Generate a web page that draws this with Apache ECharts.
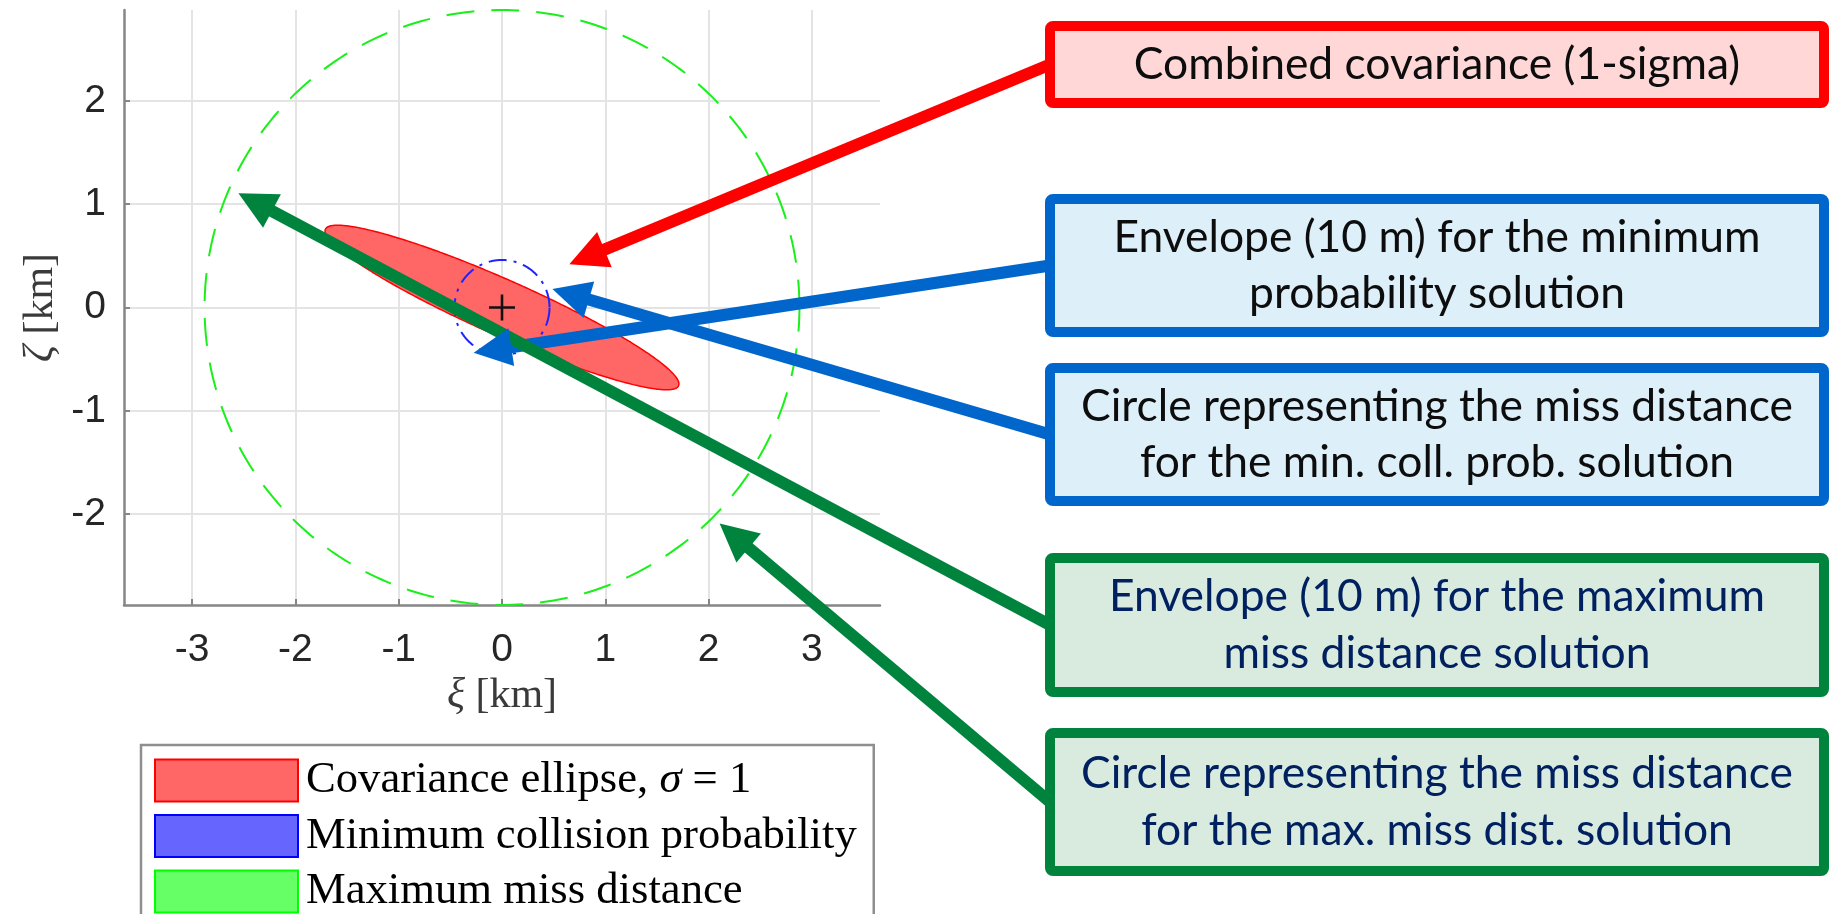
<!DOCTYPE html>
<html>
<head>
<meta charset="utf-8">
<script src="https://cdn.jsdelivr.net/npm/echarts@6.0.0/dist/echarts.min.js"></script>
<style>
  html, body { margin: 0; padding: 0; background: #ffffff; }
  #chart { width: 1832px; height: 914px; }
</style>
</head>
<body>
<div id="chart"></div>
<script>
// Encounter-plane geometry (ξ, ζ), in km
const covarianceEllipse = [0, 0, 1.87, 0.27, -23.9];    // cx, cy, semi-major, semi-minor, tilt (deg)
const minProbabilityCircle = [0, 0, 0.46];              // cx, cy, radius
const maxMissCircle = [0, 0, 2.88];                     // cx, cy, radius
const originMarker = [[0, 0]];

const seriesNames = [
  'Covariance ellipse, σ = 1',
  'Minimum collision probability',
  'Maximum miss distance'
];

const xRange = [-3.66, 3.66];
const yRange = [-2.88, 2.88];
const xTicks = [-3, -2, -1, 0, 1, 2, 3];
const yTicks = [-2, -1, 0, 1, 2];

// Callout texts and the data point each arrow points at
const calloutTexts = [
  'Combined covariance (1-sigma)',
  'Envelope (10 m) for the minimum\nprobability solution',
  'Circle representing the miss distance\nfor the min. coll. prob. solution',
  'Envelope (10 m) for the maximum\nmiss distance solution',
  'Circle representing the miss distance\nfor the max. miss dist. solution'
];
const calloutTargets = [
  [0.652, 0.419],
  [-0.274, -0.439],
  [0.488, 0.179],
  [-2.552, 1.106],
  [2.107, -2.091]
];

// ---- styling / layout ----
const RED = '#ff0000', BLUE = '#0066cc', GREEN = '#00843d';
const calloutStyle = [
  { stroke: RED,   fill: '#ffd7d7', text: '#0d0d0d' },
  { stroke: BLUE,  fill: '#ddeff9', text: '#0d0d0d' },
  { stroke: BLUE,  fill: '#ddeff9', text: '#0d0d0d' },
  { stroke: GREEN, fill: '#d8ebde', text: '#002060' },
  { stroke: GREEN, fill: '#d8ebde', text: '#002060' }
];
// outer top / bottom of each callout box (px)
const boxRows = [[21, 108], [194, 337], [363, 506], [553, 697], [728, 876]];
const boxLeft = 1045, boxRight = 1829, boxBorder = 10;

function fitFont(text, family, targetWidth) {
  const ctx = document.createElement('canvas').getContext('2d');
  ctx.font = '100px ' + family;
  return 100 * targetWidth / ctx.measureText(text).width;
}
const legendFont = fitFont('Minimum collision probability', '"Liberation Serif"', 551);
const boxFont = fitFont('Circle representing the miss distance', 'Lato', 712);

// Closed outline of a (possibly rotated) ellipse in data space, projected through the axes
function outline(api, cx, cy, a, b, tiltDeg) {
  const t = tiltDeg * Math.PI / 180;
  const pts = [];
  const n = 360;
  for (let i = 0; i < n; i++) {
    const p = 2 * Math.PI * i / n;
    const u = a * Math.cos(p), v = b * Math.sin(p);
    pts.push(api.coord([cx + u * Math.cos(t) - v * Math.sin(t),
                        cy + u * Math.sin(t) + v * Math.cos(t)]));
  }
  return pts;
}

const chart = echarts.init(document.getElementById('chart'), null, { renderer: 'canvas' });

const axisGray = '#868686';
const nameFont = 42;
const nameStyle = {
  fontFamily: '"Liberation Serif", serif',
  fontSize: nameFont,
  color: '#3a3a3a',
  rich: { g: { fontFamily: '"Liberation Serif", serif', fontSize: nameFont, fontStyle: 'italic', color: '#3a3a3a' } }
};
const tickFont = { fontFamily: '"Liberation Sans", Arial, sans-serif', fontSize: 39, color: '#262626' };

const option = {
  animation: false,
  backgroundColor: '#ffffff',
  grid: { left: 124, top: 10, width: 756, height: 595, containLabel: false, outerBoundsMode: 'none' },
  xAxis: {
    type: 'value',
    min: xRange[0], max: xRange[1],
    minInterval: 1, maxInterval: 1,
    name: '{g|ξ} [km]',
    nameLocation: 'middle',
    nameGap: 70,
    nameTextStyle: nameStyle,
    axisLine: { show: true, onZero: false, lineStyle: { color: axisGray, width: 2.5 } },
    axisTick: { show: true, inside: true, length: 6, customValues: xTicks, lineStyle: { color: axisGray, width: 2 } },
    axisLabel: Object.assign({ customValues: xTicks, margin: 26 }, tickFont),
    splitLine: { show: true, lineStyle: { color: '#e4e4e4', width: 2 } }
  },
  yAxis: {
    type: 'value',
    min: yRange[0], max: yRange[1],
    minInterval: 1, maxInterval: 1,
    name: '{g|ζ} [km]',
    nameLocation: 'middle',
    nameGap: 62,
    nameRotate: 90,
    nameTextStyle: nameStyle,
    axisLine: { show: true, onZero: false, lineStyle: { color: axisGray, width: 2.5 } },
    axisTick: { show: true, inside: true, length: 6, customValues: yTicks, lineStyle: { color: axisGray, width: 2 } },
    axisLabel: Object.assign({ customValues: yTicks, margin: 18 }, tickFont),
    splitLine: { show: true, lineStyle: { color: '#e4e4e4', width: 2 } }
  },
  legend: {
    orient: 'vertical',
    left: 141, top: 745,
    height: 400,
    selectedMode: false,
    itemWidth: 143, itemHeight: 42, itemGap: 10.5,
    padding: [13, 17, 14, 13],
    backgroundColor: '#ffffff',
    borderColor: '#8f8f8f', borderWidth: 2.5, borderRadius: 0,
    data: [
      { name: seriesNames[0], icon: 'rect', itemStyle: { color: '#ff6666', borderColor: '#ff0000', borderWidth: 2 } },
      { name: seriesNames[1], icon: 'rect', itemStyle: { color: '#6666ff', borderColor: '#0000ff', borderWidth: 2 } },
      { name: seriesNames[2], icon: 'rect', itemStyle: { color: '#66ff66', borderColor: '#00ff00', borderWidth: 2 } }
    ],
    formatter: function (name) {
      return name === seriesNames[0] ? '{n|Covariance ellipse, }{g|σ}{n| = 1}' : '{n|' + name + '}';
    },
    textStyle: {
      fontFamily: '"Liberation Serif", serif', fontSize: legendFont, color: '#000000',
      lineHeight: 42, padding: [0, 0, 0, 3],
      rich: {
        n: { fontFamily: '"Liberation Serif", serif', fontSize: legendFont, color: '#000000', lineHeight: 42 },
        g: { fontFamily: '"Liberation Serif", serif', fontSize: legendFont, fontStyle: 'italic', color: '#000000', lineHeight: 42 }
      }
    }
  },
  series: [
    {
      name: seriesNames[0],
      type: 'custom',
      z: 2,
      silent: true,
      data: [covarianceEllipse],
      renderItem: function (params, api) {
        return {
          type: 'polygon',
          shape: { points: outline(api, api.value(0), api.value(1), api.value(2), api.value(3), api.value(4)) },
          style: { fill: '#ff6666', stroke: '#ff0000', lineWidth: 1.5 }
        };
      }
    },
    {
      name: seriesNames[1],
      type: 'custom',
      z: 3,
      silent: true,
      data: [minProbabilityCircle],
      renderItem: function (params, api) {
        const r = api.value(2);
        return {
          type: 'polygon',
          shape: { points: outline(api, api.value(0), api.value(1), r, r, 0) },
          style: { fill: 'none', stroke: '#2222ff', lineWidth: 2, lineDash: [18, 7, 3, 7] }
        };
      }
    },
    {
      name: seriesNames[2],
      type: 'custom',
      z: 3,
      silent: true,
      data: [maxMissCircle],
      renderItem: function (params, api) {
        const r = api.value(2);
        return {
          type: 'polygon',
          shape: { points: outline(api, api.value(0), api.value(1), r, r, 0) },
          style: { fill: 'none', stroke: '#19f019', lineWidth: 2, lineDash: [28, 17] }
        };
      }
    },
    {
      name: 'origin',
      type: 'scatter',
      z: 4,
      silent: true,
      data: originMarker,
      symbol: 'path://M-1.3,-13H1.3V-1.3H13V1.3H1.3V13H-1.3V1.3H-13V-1.3H-1.3Z',
      symbolSize: 26,
      itemStyle: { color: '#111111', opacity: 1 }
    }
  ]
};

chart.setOption(option);

// Callout boxes with arrows pointing into the plot
const graphics = [];
const headLen = 38, headHalf = 19, shaftWidth = 12;
calloutTexts.forEach(function (text, i) {
  const st = calloutStyle[i];
  const top = boxRows[i][0], bottom = boxRows[i][1];
  const half = boxBorder / 2;
  const tail = [boxLeft + half, (top + bottom) / 2];
  const tip = chart.convertToPixel({ gridIndex: 0 }, calloutTargets[i]);
  const dx = tip[0] - tail[0], dy = tip[1] - tail[1];
  const len = Math.sqrt(dx * dx + dy * dy);
  const ux = dx / len, uy = dy / len;
  const bx = tip[0] - ux * headLen, by = tip[1] - uy * headLen;
  graphics.push({
    type: 'line', z: 100,
    shape: { x1: tail[0], y1: tail[1], x2: bx + ux * 2, y2: by + uy * 2 },
    style: { stroke: st.stroke, lineWidth: shaftWidth, lineCap: 'butt' }
  });
  graphics.push({
    type: 'polygon', z: 101,
    shape: { points: [tip, [bx - uy * headHalf, by + ux * headHalf], [bx + uy * headHalf, by - ux * headHalf]] },
    style: { fill: st.stroke }
  });
  graphics.push({
    type: 'rect', z: 102,
    shape: { x: boxLeft + half, y: top + half, width: boxRight - boxLeft - boxBorder, height: bottom - top - boxBorder, r: 3 },
    style: { fill: st.fill, stroke: st.stroke, lineWidth: boxBorder }
  });
  graphics.push({
    type: 'text', z: 103,
    x: (boxLeft + boxRight) / 2,
    y: (top + bottom) / 2,
    style: {
      text: text, align: 'center', verticalAlign: 'middle',
      fontFamily: 'Lato', fontSize: boxFont, lineHeight: 56.5, fill: st.text
    }
  });
});
chart.setOption({ graphic: graphics });
</script>
</body>
</html>
